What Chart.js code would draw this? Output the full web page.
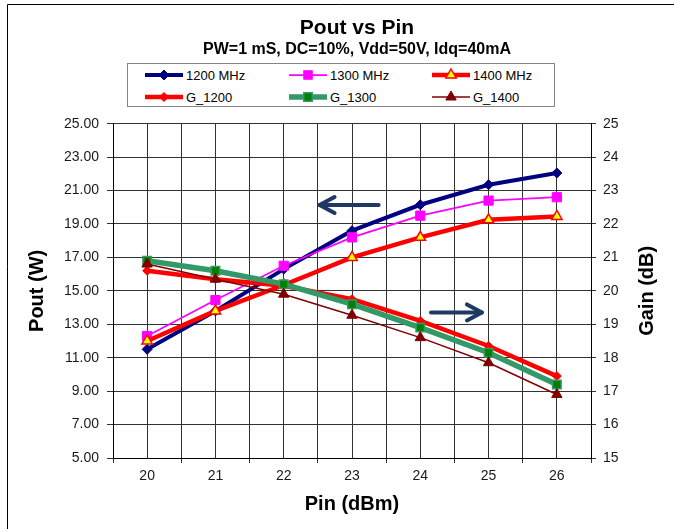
<!DOCTYPE html>
<html><head><meta charset="utf-8">
<script src="https://cdn.jsdelivr.net/npm/chart.js@4/dist/chart.umd.min.js"></script>
<style>
html,body{margin:0;padding:0;background:#fff;}
#wrap{position:relative;width:674px;height:529px;overflow:hidden;background:#fff;}
#c{position:absolute;left:0;top:0;}
#legend{position:absolute;left:127px;top:63px;width:426px;height:42px;border:1px solid #868686;background:#fff;font-family:"Liberation Sans",Arial,sans-serif;font-size:13px;color:#000;}
.item{position:absolute;display:flex;align-items:center;height:20px;white-space:nowrap;}
.item svg{margin-right:3px;}
</style></head>
<body>
<div id="wrap"><canvas id="c" width="674" height="529"></canvas><div id="legend"></div></div>
<script>
// ---- data ----
const categories = [20, 21, 22, 23, 24, 25, 26];
const pout1200 = [11.5, 13.8, 16.3, 18.6, 20.15, 21.35, 22.05];
const pout1300 = [12.3, 14.45, 16.5, 18.2, 19.5, 20.4, 20.6];
const pout1400 = [12.0, 13.8, 15.35, 17.0, 18.2, 19.25, 19.45];
const gain1200 = [20.6, 20.35, 20.15, 19.75, 19.1, 18.35, 17.45];
const gain1300 = [20.9, 20.6, 20.2, 19.6, 18.9, 18.15, 17.2];
const gain1400 = [20.8, 20.35, 19.9, 19.27, 18.6, 17.85, 16.9];
const seriesNames = ['1200 MHz', '1300 MHz', '1400 MHz', 'G_1200', 'G_1300', 'G_1400'];
const poutTicks = [5, 7, 9, 11, 13, 15, 17, 19, 21, 23, 25];
const gainTicks = [15, 16, 17, 18, 19, 20, 21, 22, 23, 24, 25];

// ---- annotation arrows (data units: x, left axis y) ----
const arrowLeft = {from: [23.39, 20.13], to: [22.525, 20.13]};
const arrowRight = {from: [24.157, 13.71], to: [24.903, 13.71]};

// ---- styles ----
const F = '"Liberation Sans", Arial, sans-serif';
const GRID = '#333333';
const TEXT = '#1a1a1a';
const TITLE_DX = 20;
const styles = [
  {color:'#000080', width:4,   point:'rectRot',  r:5,   fill:'#000080', stroke:'#000080', pbw:1,   axis:'y'},
  {color:'#FF00FF', width:1.75,point:'rect',     r:6.5, fill:'#FF00FF', stroke:'#FF00FF', pbw:1,   axis:'y'},
  {color:'#FF0000', width:4.5, point:'triangle', r:6,   fill:'#FFFF00', stroke:'#FF0000', pbw:1.5, axis:'y'},
  {color:'#FF0000', width:4.5, point:'rectRot',  r:4.5, fill:'#FF0000', stroke:'#FF0000', pbw:1,   axis:'y2'},
  {color:'#339966', width:5.5, point:'rect',     r:6,   fill:'#008000', stroke:'#339966', pbw:1.5, axis:'y2'},
  {color:'#800000', width:1.5, point:'triangle', r:6,   fill:'#800000', stroke:'#800000', pbw:1,   axis:'y2'}
];
const seriesValues = [pout1200, pout1300, pout1400, gain1200, gain1300, gain1400];

const datasets = seriesValues.map((vals, i) => {
  const s = styles[i];
  return {
    label: seriesNames[i],
    data: categories.map((c, k) => ({x: c, y: vals[k]})),
    yAxisID: s.axis,
    borderColor: s.color,
    borderWidth: s.width,
    backgroundColor: s.fill,
    pointStyle: s.point,
    pointRadius: s.r,
    pointBackgroundColor: s.fill,
    pointBorderColor: s.stroke,
    pointBorderWidth: s.pbw,
    tension: 0,
    fill: false,
    order: seriesValues.length - 1 - i
  };
});

const xTicks = [];
categories.forEach(c => { xTicks.push(c - 0.5); xTicks.push(c); });
xTicks.push(categories[categories.length - 1] + 0.5);

const frame = {
  id: 'frame',
  beforeDraw(chart) {
    const ctx = chart.ctx;
    ctx.save();
    ctx.fillStyle = '#fff';
    ctx.fillRect(0, 0, chart.width, chart.height);
    ctx.strokeStyle = '#000';
    ctx.lineWidth = 1;
    ctx.beginPath();
    ctx.moveTo(7.5, chart.height);
    ctx.lineTo(7.5, 4.5);
    ctx.lineTo(chart.width, 4.5);
    ctx.stroke();
    ctx.restore();
  }
};

const titleShift = {
  id: 'titleShift',
  afterLayout(chart) {
    chart.boxes.forEach(b => {
      if (b && b.options && typeof b.options.text === 'string' && !b.axis) {
        b.left += TITLE_DX; b.right += TITLE_DX;
      }
    });
  }
};

function drawArrow(ctx, x1, y1, x2, y2) {
  const ang = Math.atan2(y2 - y1, x2 - x1);
  const hl = 15, hw = 8;
  ctx.beginPath();
  ctx.moveTo(x1, y1);
  ctx.lineTo(x2, y2);
  ctx.stroke();
  ctx.beginPath();
  ctx.moveTo(x2 - hl * Math.cos(ang) + hw * Math.sin(ang), y2 - hl * Math.sin(ang) - hw * Math.cos(ang));
  ctx.lineTo(x2, y2);
  ctx.lineTo(x2 - hl * Math.cos(ang) - hw * Math.sin(ang), y2 - hl * Math.sin(ang) + hw * Math.cos(ang));
  ctx.stroke();
}

const extras = {
  id: 'extras',
  afterDraw(chart) {
    const ctx = chart.ctx, xs = chart.scales.x, ys = chart.scales.y, y2 = chart.scales.y2;
    ctx.save();
    ctx.strokeStyle = '#1f3864';
    ctx.lineWidth = 4;
    ctx.lineCap = 'round';
    ctx.lineJoin = 'round';
    [arrowLeft, arrowRight].forEach(a => {
      drawArrow(ctx, xs.getPixelForValue(a.from[0]), ys.getPixelForValue(a.from[1]),
                     xs.getPixelForValue(a.to[0]), ys.getPixelForValue(a.to[1]));
    });
    // right axis title, reading bottom-to-top
    ctx.translate(y2.right - 26.5, (chart.chartArea.top + chart.chartArea.bottom) / 2);
    ctx.rotate(-Math.PI / 2);
    ctx.fillStyle = '#000';
    ctx.font = 'bold 20px ' + F;
    ctx.textAlign = 'center';
    ctx.textBaseline = 'middle';
    ctx.fillText('Gain (dB)', 0, 0);
    ctx.restore();
  }
};

const chart = new Chart(document.getElementById('c'), {
  type: 'line',
  data: {datasets},
  plugins: [frame, titleShift, extras],
  options: {
    responsive: false,
    animation: false,
    devicePixelRatio: 1,
    layout: {padding: 0},
    plugins: {
      legend: {display: false},
      tooltip: {enabled: false},
      title: {display: true, text: 'Pout vs Pin', color: '#000',
        font: {family: F, size: 21, weight: 'bold', lineHeight: 1}, padding: {top: 17.5, bottom: 0}},
      subtitle: {display: true, text: 'PW=1 mS, DC=10%, Vdd=50V, Idq=40mA', color: '#000',
        font: {family: F, size: 16, weight: 'bold', lineHeight: 1.2}, padding: {top: 1, bottom: 65}}
    },
    scales: {
      x: {
        type: 'linear', min: 19.5, max: 26.5,
        afterBuildTicks: s => { s.ticks = xTicks.map(v => ({value: v})); },
        afterFit: s => { s.height = 71; },
        grid: {color: GRID, lineWidth: 1, tickLength: 5,
          tickColor: c => (c.tick && Number.isInteger(c.tick.value)) ? 'rgba(0,0,0,0)' : GRID},
        border: {color: '#000'},
        ticks: {autoSkip: false, maxRotation: 0, padding: 5, color: TEXT, font: {family: F, size: 14},
          callback: v => Number.isInteger(v) ? String(v) : ''},
        title: {display: true, text: 'Pin (dBm)', color: '#000',
          font: {family: F, size: 20, weight: 'bold', lineHeight: 1.2}, padding: {top: 0, bottom: 13}}
      },
      y: {
        position: 'left', min: 5, max: 25,
        afterBuildTicks: s => { s.ticks = poutTicks.map(v => ({value: v})); },
        afterFit: s => { s.width = 113; },
        grid: {color: GRID, lineWidth: 1, tickLength: 6},
        border: {color: '#000'},
        ticks: {padding: 8, color: TEXT, font: {family: F, size: 14}, callback: v => Number(v).toFixed(2)},
        title: {display: true, text: 'Pout (W)', color: '#000',
          font: {family: F, size: 20, weight: 'bold', lineHeight: 1.2}, padding: {top: 25.5, bottom: 0}}
      },
      y2: {
        position: 'right', min: 15, max: 25,
        afterBuildTicks: s => { s.ticks = gainTicks.map(v => ({value: v})); },
        afterFit: s => { s.width = 83; },
        grid: {drawOnChartArea: false, color: GRID, tickLength: 5},
        border: {color: '#000'},
        ticks: {padding: 7, color: TEXT, font: {family: F, size: 14}, callback: v => String(v)}
      }
    }
  }
});

// ---- HTML legend built from the chart datasets ----
function markerSVG(ds) {
  const w = 38, h = 16, cx = 19, cy = 8, r = Math.min(ds.pointRadius, 6);
  let m = '';
  const f = ds.pointBackgroundColor, s = ds.pointBorderColor, sw = ds.pointBorderWidth;
  if (ds.pointStyle === 'rectRot') {
    m = `<polygon points="${cx-r},${cy} ${cx},${cy-r} ${cx+r},${cy} ${cx},${cy+r}" fill="${f}" stroke="${s}" stroke-width="${sw}"/>`;
  } else if (ds.pointStyle === 'rect') {
    const a = r * 0.707;
    m = `<rect x="${cx-a}" y="${cy-a}" width="${2*a}" height="${2*a}" fill="${f}" stroke="${s}" stroke-width="${sw}"/>`;
  } else {
    m = `<polygon points="${cx},${cy-r} ${cx+r*0.866},${cy+r*0.5} ${cx-r*0.866},${cy+r*0.5}" fill="${f}" stroke="${s}" stroke-width="${sw}"/>`;
  }
  return `<svg width="${w}" height="${h}"><line x1="0" y1="${cy}" x2="${w}" y2="${cy}" stroke="${ds.borderColor}" stroke-width="${ds.borderWidth}"/>${m}</svg>`;
}
const leg = document.getElementById('legend');
const colX = [17, 161, 304], rowY = [1, 23];
chart.data.datasets.forEach((ds, i) => {
  const d = document.createElement('div');
  d.className = 'item';
  d.style.left = colX[i % 3] + 'px';
  d.style.top = rowY[Math.floor(i / 3)] + 'px';
  d.innerHTML = markerSVG(ds) + '<span>' + ds.label + '</span>';
  leg.appendChild(d);
});
</script>
</body></html>
